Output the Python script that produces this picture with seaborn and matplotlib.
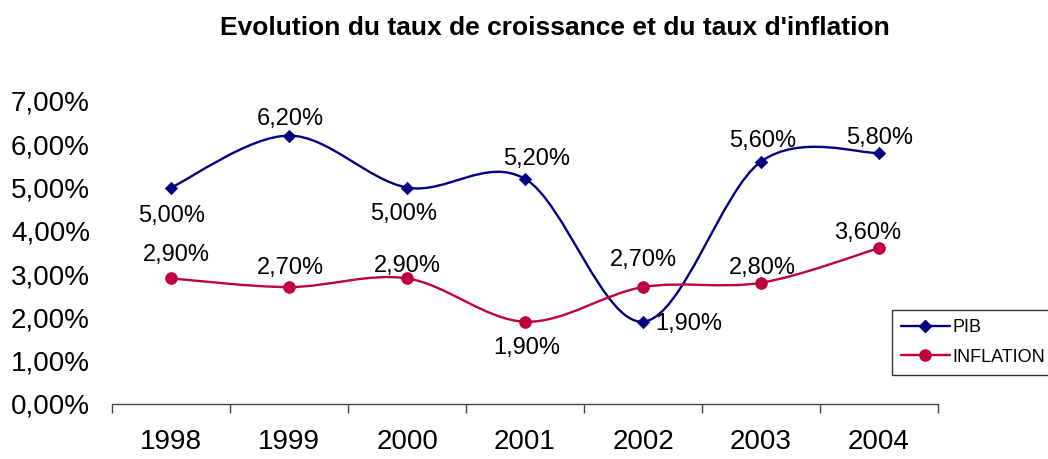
import numpy as np
import pandas as pd
import matplotlib
matplotlib.use("Agg")
import matplotlib.pyplot as plt
from matplotlib.path import Path
from matplotlib.patches import PathPatch
from matplotlib.lines import Line2D
from matplotlib.ticker import FuncFormatter
import seaborn as sns

years = ["1998", "1999", "2000", "2001", "2002", "2003", "2004"]
pib = [0.050, 0.062, 0.050, 0.052, 0.019, 0.056, 0.058]
inflation = [0.029, 0.027, 0.029, 0.019, 0.027, 0.028, 0.036]

# label offsets in pixels (dx, dy), screen direction
pib_offsets = [(0, -28), (1, 17), (-3, -26), (12, 20), (46, -2), (2, 21), (1, 15)]
inf_offsets = [(5, 23), (1, 19), (0, 12), (2, -26), (0, 27), (1, 15), (-11, 15)]

PIB_COLOR = "#000080"
INF_COLOR = "#C0003C"


def pct(v):
    return f"{v * 100:.2f}%".replace(".", ",")


def smooth_path(xs, ys):
    # Excel-style smoothed line: Catmull-Rom converted to cubic bezier
    pts = np.column_stack([xs, ys]).astype(float)
    ext = np.vstack([pts[0], pts, pts[-1]])
    verts = [tuple(pts[0])]
    codes = [Path.MOVETO]
    for i in range(len(pts) - 1):
        p0, p1, p2, p3 = ext[i], ext[i + 1], ext[i + 2], ext[i + 3]
        c1 = p1 + (p2 - p0) / 6
        c2 = p2 - (p3 - p1) / 6
        verts += [tuple(c1), tuple(c2), tuple(p2)]
        codes += [Path.CURVE4] * 3
    return Path(verts, codes)


df = pd.DataFrame({
    "pos": list(range(len(years))) * 2,
    "val": pib + inflation,
    "serie": ["PIB"] * len(years) + ["INFLATION"] * len(years),
})

sns.set_style("white")
plt.rcParams["font.family"] = ["Liberation Sans", "DejaVu Sans"]
plt.rcParams["text.color"] = "black"
plt.rcParams["xtick.color"] = "black"
plt.rcParams["ytick.color"] = "black"
plt.rcParams["axes.labelcolor"] = "black"

fig = plt.figure(figsize=(10.48, 4.59), dpi=100)
ax = fig.add_axes([0.107, 0.120, 0.788, 0.660])

x = np.arange(len(years))
for vals, col in [(pib, PIB_COLOR), (inflation, INF_COLOR)]:
    ax.add_patch(PathPatch(smooth_path(x, vals), facecolor="none",
                           edgecolor=col, lw=1.7, zorder=2))

sns.scatterplot(data=df[df.serie == "PIB"], x="pos", y="val", marker="D",
                color=PIB_COLOR, s=40, edgecolor=PIB_COLOR, ax=ax, zorder=3,
                legend=False)
sns.scatterplot(data=df[df.serie == "INFLATION"], x="pos", y="val", marker="o",
                color=INF_COLOR, s=70, edgecolor=INF_COLOR, ax=ax, zorder=3,
                legend=False)

for i, v in enumerate(pib):
    dx, dy = pib_offsets[i]
    ax.annotate(pct(v), (i, v), xytext=(dx * 0.72, dy * 0.72),
                textcoords="offset points", ha="center", va="center", fontsize=17)
for i, v in enumerate(inflation):
    dx, dy = inf_offsets[i]
    ax.annotate(pct(v), (i, v), xytext=(dx * 0.72, dy * 0.72),
                textcoords="offset points", ha="center", va="center", fontsize=17)

ax.set_xlim(-0.5, len(years) - 0.5)
ax.set_ylim(0, 0.07)
ax.set_yticks(np.arange(0, 0.071, 0.01))
ax.yaxis.set_major_formatter(FuncFormatter(lambda v, _: pct(v)))
ax.tick_params(axis="y", length=0, pad=16, labelsize=20)

ax.set_xticks(np.arange(-0.5, len(years), 1.0))
ax.set_xticklabels([])
ax.tick_params(axis="x", which="major", direction="out", length=6.5, width=1,
               color="#444444", bottom=True)
ax.set_xticks(x, minor=True)
ax.set_xticklabels(years, minor=True)
ax.tick_params(axis="x", which="minor", length=0, pad=18, labelsize=20)

for s in ["top", "right", "left"]:
    ax.spines[s].set_visible(False)
ax.spines["bottom"].set_color("#444444")
ax.spines["bottom"].set_linewidth(1)
ax.set_xlabel("")
ax.set_ylabel("")

fig.suptitle("Evolution du taux de croissance et du taux d'inflation",
             x=0.529, y=0.966, fontsize=19, fontweight="bold")

handles = [
    Line2D([], [], color=PIB_COLOR, marker="D", markersize=6, lw=1.7),
    Line2D([], [], color=INF_COLOR, marker="o", markersize=8, lw=1.7),
]
leg = fig.legend(handles, ["PIB", "INFLATION"], loc="upper left",
                 bbox_to_anchor=(892 / 1048, 1 - 310 / 459), fontsize=13,
                 frameon=True, fancybox=False, edgecolor="black",
                 handlelength=2.7, handletextpad=0.15, borderpad=0.5,
                 labelspacing=0.7, borderaxespad=0)
leg.get_frame().set_linewidth(1)

fig.savefig("out.png", dpi=100)
